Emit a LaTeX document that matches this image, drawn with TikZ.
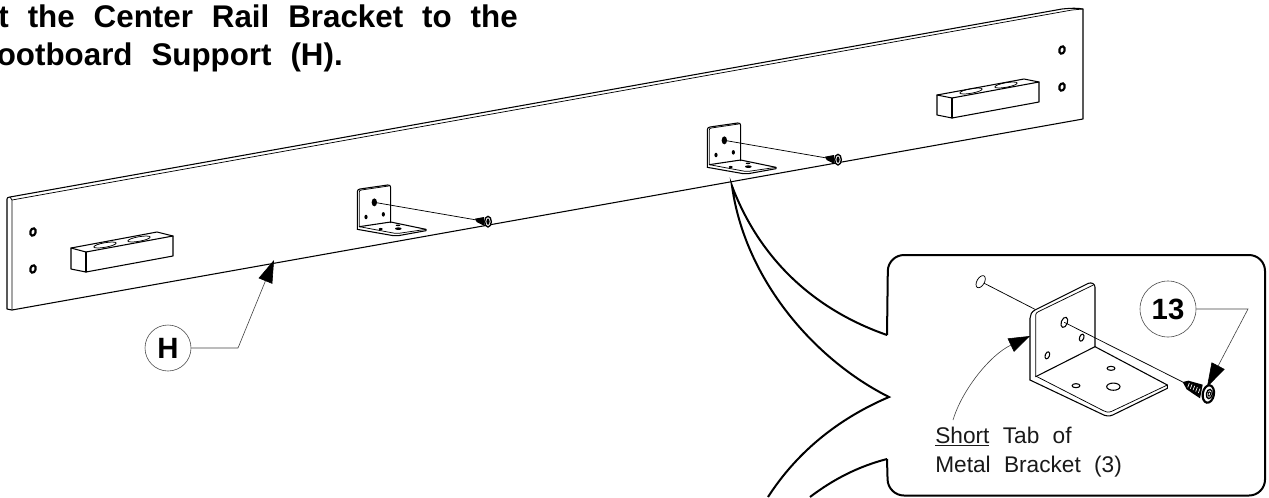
\documentclass[tikz,border=0pt]{standalone}
\usepackage{fontspec}
\setmainfont{Liberation Sans}
\usetikzlibrary{arrows.meta}
\tikzset{
 px/.style={x=0.75pt,y=-0.75pt},
 zoomed/.style={x=0.25pt,y=-0.25pt},
 edge/.style={draw=black,line width=0.8pt,line join=round,line cap=round},
 fine/.style={draw=black,line width=0.55pt,line join=round,line cap=round},
 callout/.style={draw=black,line width=1.5pt,line join=miter},
 leader/.style={draw=black!75,line width=0.45pt},
 labelring/.style={circle,draw=black!70,line width=0.45pt,inner sep=0pt,minimum size=34.5pt,font=\bfseries\fontsize{22}{24}\selectfont},
 bolttext/.style={font=\bfseries\fontsize{23.5}{28}\selectfont,text=black,inner sep=0pt,anchor=base east},
 plaintext/.style={font=\fontsize{17}{20}\selectfont,text=black!90,inner sep=0pt,anchor=base west}
}
\newcommand{\ringhole}[4]{\draw[black,line width=1.6pt,shift={(#1,#2)},rotate=-15] (0,0) ellipse[x radius=#3pt,y radius=#4pt];}
\newcommand{\tiltoval}[6]{\draw[#6,shift={(#1,#2)},rotate=#5] (0,0) ellipse[x radius=#3pt,y radius=#4pt];}
\newcommand{\smallbracket}{%
 \draw[edge] (52,178) -- (52,65) .. controls (52,60) and (55,58) .. (60,57) -- (143,45) .. controls (148,44) and (152,47) .. (152,52) -- (152,158);
 \draw[fine] (58,170) -- (58,66) .. controls (58,62) and (60,60) .. (64,60) -- (146,48);
 \draw[edge] (52,178) -- (160,197) .. controls (165,198) and (170,198) .. (175,197) -- (258,182) -- (258,178) -- (152,156) -- (58,170);
 \draw[fine] (58,170) -- (165,190) .. controls (170,191) and (172,191) .. (176,190) -- (258,178);
 \fill[black] (103,97) ellipse[x radius=2pt,y radius=3pt];
 \fill[black] (78,141) ellipse[x radius=1.2pt,y radius=1.7pt];
 \fill[black] (130,133) ellipse[x radius=1.2pt,y radius=1.7pt];
 \fill[black] (122,177) ellipse[x radius=1.5pt,y radius=0.8pt];
 \fill[black] (174,166) ellipse[x radius=1.7pt,y radius=0.6pt];
 \fill[black] (175,176) ellipse[x radius=2.5pt,y radius=1pt];
 \draw[fine] (103,97) -- (410,150);
 \fill[black] (405,146) -- (432,141) -- (434,168) -- (410,156) -- cycle;
 \draw[black,line width=1pt,fill=white,shift={(444,155)}] (0,0) ellipse[x radius=2.5pt,y radius=4pt];
 \fill[black] (444,155) ellipse[x radius=1.2pt,y radius=2.4pt];
}
\begin{document}
\begin{tikzpicture}[px]
\useasboundingbox (0,0) rectangle (1269,497);
% title
\node[bolttext] (titleA) at (518,27) {\spaceskip=14.2pt t the Center Rail Bracket to the};
\node[bolttext] (titleB) at (343,65) {\spaceskip=14.2pt ootboard Support (H).};
% board
\draw[edge] (12,310) -- (7,309) -- (7,199) .. controls (7,198) and (8,197) .. (10,197) -- (1062,9) .. controls (1072,8) and (1078,8) .. (1083,9) -- (1083,119) -- cycle;
\draw[fine] (12,310) -- (12,200) -- (10,197);
\draw[fine] (12,200) -- (1072,10) -- (1083,9);
% board holes
\ringhole{33}{232}{2}{2.8}
\ringhole{33}{269}{2}{2.8}
\ringhole{1062}{50}{2}{2.8}
\ringhole{1062}{87}{2}{2.8}
% left block
\draw[edge] (71,248) -- (71,269) -- (86,272) -- (173,256) -- (173,236) -- (157,232) -- cycle;
\draw[edge] (71,248) -- (86,252) -- (173,236);
\draw[edge] (86,252) -- (86,272);
\tiltoval{105}{245}{8.5}{1.7}{10}{fine}
\tiltoval{139}{239}{8.5}{1.7}{10}{fine}
% right block
\draw[edge] (937,95) -- (937,115) -- (952,118) -- (1039,102) -- (1039,82) -- (1024,79) -- cycle;
\draw[edge] (937,95) -- (952,98) -- (1039,82);
\draw[edge] (952,98) -- (952,118);
\tiltoval{971}{91}{8.5}{1.7}{10}{fine}
\tiltoval{1006}{85}{8.5}{1.7}{10}{fine}
% small brackets
\begin{scope}[shift={(340,170)},zoomed]\smallbracket\end{scope}
\begin{scope}[shift={(690,108)},zoomed]\smallbracket\end{scope}
% callout
\coordinate (tip) at (732,186);
\coordinate (calloutA) at (887,335);
\coordinate (calloutB) at (889,397);
\coordinate (calloutC) at (887,459);
\draw[callout] (calloutA) .. controls (815,310) and (760,260) .. (tip) .. controls (745,280) and (815,360) .. (calloutB) .. controls (835,420) and (795,455) .. (768,497);
\draw[callout] (810,497) .. controls (835,478) and (860,466) .. (calloutC);
\draw[callout,rounded corners=12pt] (calloutA) -- (888,255) -- (1265,255) -- (1265,495.5) -- (888,495.5) -- (calloutC);
% inset bracket
\begin{scope}[shift={(880,250)},zoomed]
 \draw[edge] (450,390) -- (450,205) .. controls (450,195) and (455,185) .. (465,180) -- (625,100) .. controls (635,96) and (645,102) .. (645,112) -- (645,290);
 \draw[fine] (467,378) -- (467,195) .. controls (467,190) and (470,188) .. (475,185) -- (640,105);
 \draw[edge] (450,390) -- (665,492) .. controls (675,498) and (688,500) .. (698,495) -- (862,415) -- (862,405) -- (645,290) -- (467,380);
 \draw[fine] (467,378) -- (670,482) .. controls (678,487) and (685,488) .. (695,484) -- (862,405);
 \tiltoval{553}{217}{2.3}{4}{-20}{edge}
 \tiltoval{605}{263}{1.6}{2.8}{-20}{edge}
 \tiltoval{502}{316}{1.6}{2.8}{-20}{edge}
 \tiltoval{693}{355}{3}{1.5}{0}{edge}
 \tiltoval{588}{407}{3}{1.5}{0}{edge}
 \tiltoval{700}{410}{5}{2.7}{0}{edge}
 \tiltoval{302}{95}{2.8}{5}{-30}{fine}
 \draw[fine] (313,100) -- (465,178);
 \draw[fine] (553,217) -- (912,398);
 % screw
 \fill[black] (908,396) -- (925,392) -- (968,404) -- (960,445) -- (920,418) -- cycle;
 \foreach \i in {0,...,4}{
  \draw[white,line width=0.5pt] ({928+\i*8},{399+\i*4.2}) -- ({923+\i*8},{412+\i*4.2});
 }
 \draw[black,line width=1.6pt,fill=white,shift={(985,432)},rotate=-10] (0,0) ellipse[x radius=4.2pt,y radius=6.6pt];
 \draw[black,line width=1pt,shift={(988,432)},rotate=-10] (0,0) ellipse[x radius=2.2pt,y radius=3.5pt];
 \draw[black,line width=0.7pt,shift={(988,432)},rotate=-10] (0,0) ellipse[x radius=0.9pt,y radius=1.6pt];
\end{scope}
% labels
\node[labelring] (ringH) at (168,348) {H};
\coordinate (bendH) at (238,348);
\coordinate (tipH) at (274,260);
\draw[leader,-{Triangle[length=17pt,width=11pt,black]}] (ringH.east) -- (bendH) -- (tipH);
\node[labelring,minimum size=42pt] (ring13) at (1168,309) {13};
\coordinate (bend13) at (1248,309);
\coordinate (tip13) at (1207,387);
\draw[leader,-{Triangle[length=18pt,width=11pt,black]}] (ring13.east) -- (bend13) -- (tip13);
\node[plaintext] (shorttab) at (935,443) {\spaceskip=10pt \underline{Short} Tab of};
\node[plaintext] (metal) at (935,472) {\spaceskip=10pt Metal Bracket (3)};
\coordinate (tabstart) at (953,420);
\coordinate (tabtip) at (1030,336);
\draw[leader,-{Triangle[length=16pt,width=11pt,black]}] (tabstart) .. controls (962,390) and (990,355) .. (tabtip);
\end{tikzpicture}
\end{document}
